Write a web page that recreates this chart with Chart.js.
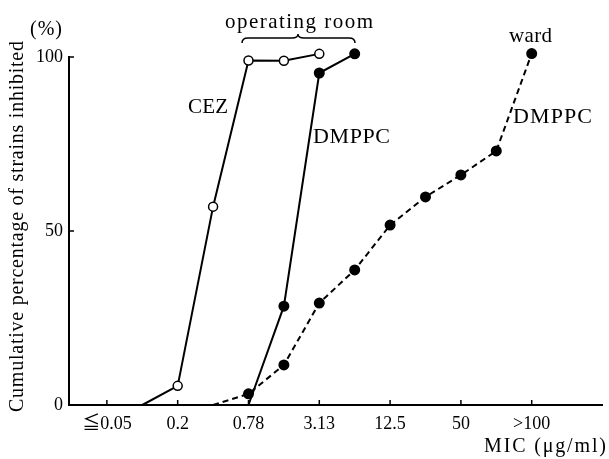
<!DOCTYPE html>
<html>
<head>
<meta charset="utf-8">
<script src="https://cdn.jsdelivr.net/npm/chart.js@4.4.1/dist/chart.umd.min.js"></script>
<style>
  body { margin: 0; background: #fff; }
  #wrap { width: 609px; height: 459px; }
</style>
</head>
<body>
<div id="wrap"><canvas id="chart" width="609" height="459"></canvas></div>
<script>
// MIC steps (two-fold dilutions), index = position on x axis
const micSteps = ['≦0.05', '0.1', '0.2', '0.39', '0.78', '1.56', '3.13', '6.25', '12.5', '25', '50', '100', '>100'];
const tickSteps = [0, 2, 4, 6, 8, 10, 12];
const tickLabels = ['≦0.05', '0.2', '0.78', '3.13', '12.5', '50', '>100'];
const yTicks = [0, 50, 100];

// cumulative % of strains inhibited, null = no point
const cezOR     = [null, 0, 5.5, 57, 99, 98.9, 100.9, null, null, null, null, null, null];
const dmppcOR   = [null, null, null, null, 0, 28.4, 95.4, 100.9, null, null, null, null, null];
const dmppcWard = [null, null, null, 0, 3.2, 11.5, 29.3, 38.8, 51.7, 59.8, 66.1, 73, 101];

const serif = '"Liberation Serif", "DejaVu Serif", "Noto Sans CJK JP", serif';

function toPoints(arr) {
  const pts = [];
  arr.forEach(function(v, i) {
    if (v !== null) pts.push({ x: i, y: v });
  });
  return pts;
}

// first point of each curve is just where the line starts, no marker
function radii(arr) {
  return toPoints(arr).map((p, i) => i === 0 ? 0 : 4.5);
}

// draw text stretched (letter spacing) to a given width, starting at x0
function drawSpread(ctx, text, x0, y, size, width) {
  ctx.font = size + 'px ' + serif;
  ctx.letterSpacing = '0px';
  const w = ctx.measureText(text).width;
  const sp = Math.max(0, (width - w) / (text.length - 1));
  ctx.letterSpacing = sp + 'px';
  ctx.textAlign = 'left';
  ctx.fillText(text, x0, y);
  ctx.letterSpacing = '0px';
}

// inward tick marks, axis titles and curve labels
const extras = {
  id: 'extras',
  afterDraw(chart) {
    const ctx = chart.ctx;
    const xs = chart.scales.x, ys = chart.scales.y;
    const area = chart.chartArea;
    ctx.save();
    ctx.strokeStyle = '#000';
    ctx.lineWidth = 1.5;
    ctx.beginPath();
    yTicks.forEach(v => {
      const py = ys.getPixelForValue(v);
      ctx.moveTo(area.left, py);
      ctx.lineTo(area.left + 5, py);
    });
    tickSteps.forEach(v => {
      const px = xs.getPixelForValue(v);
      ctx.moveTo(px, area.bottom);
      ctx.lineTo(px, area.bottom - 5);
    });
    ctx.stroke();

    ctx.fillStyle = '#000';
    ctx.textBaseline = 'middle';
    drawSpread(ctx, '(%)', 30, 30, 20, 32);
    drawSpread(ctx, 'ward', 509, 36, 21, 43);
    drawSpread(ctx, 'CEZ', 188, 107, 21, 40);
    drawSpread(ctx, 'DMPPC', 313, 137, 22, 77);
    drawSpread(ctx, 'DMPPC', 513, 117, 22, 79);
    drawSpread(ctx, 'MIC (μg/ml)', 484, 447, 20, 122);
    ctx.textBaseline = 'alphabetic';
    drawSpread(ctx, 'operating room', 225, 28, 21, 148);

    // y axis title, rotated
    ctx.save();
    ctx.translate(18, 412);
    ctx.rotate(-Math.PI / 2);
    ctx.textBaseline = 'middle';
    drawSpread(ctx, 'Cumulative percentage of strains inhibited', 0, 0, 20, 371);
    ctx.restore();

    // brace over the operating room curves
    ctx.lineWidth = 1.5;
    ctx.beginPath();
    ctx.moveTo(242, 43);
    ctx.quadraticCurveTo(242, 38, 248, 38);
    ctx.lineTo(292, 38);
    ctx.quadraticCurveTo(298, 38, 298, 34);
    ctx.quadraticCurveTo(298, 38, 304, 38);
    ctx.lineTo(349, 38);
    ctx.quadraticCurveTo(355, 38, 355, 43);
    ctx.stroke();
    ctx.restore();
  }
};

new Chart(document.getElementById('chart'), {
  type: 'line',
  data: {
    datasets: [
      {
        label: 'CEZ',
        data: toPoints(cezOR),
        borderColor: '#000',
        borderWidth: 2,
        pointRadius: radii(cezOR),
        pointBackgroundColor: '#fff',
        pointBorderColor: '#000',
        pointBorderWidth: 1.5,
        tension: 0,
        clip: false
      },
      {
        label: 'DMPPC (operating room)',
        data: toPoints(dmppcOR),
        borderColor: '#000',
        borderWidth: 2,
        pointRadius: radii(dmppcOR),
        pointBackgroundColor: '#000',
        pointBorderColor: '#000',
        tension: 0,
        clip: false
      },
      {
        label: 'DMPPC (ward)',
        data: toPoints(dmppcWard),
        borderColor: '#000',
        borderWidth: 2,
        borderDash: [6, 4],
        pointRadius: radii(dmppcWard),
        pointBackgroundColor: '#000',
        pointBorderColor: '#000',
        tension: 0,
        clip: false
      }
    ]
  },
  options: {
    responsive: false,
    animation: false,
    layout: { padding: { top: 57, right: 6, left: 0, bottom: 0 } },
    plugins: {
      legend: { display: false },
      tooltip: { enabled: false }
    },
    scales: {
      x: {
        type: 'linear',
        min: -1.07,
        max: 14,
        afterBuildTicks(scale) {
          scale.ticks = tickSteps.map(v => ({ value: v }));
        },
        afterFit(scale) { scale.height = 54; },
        grid: { display: false, drawTicks: false },
        border: { color: '#000', width: 2 },
        ticks: {
          color: '#000',
          padding: 8,
          maxRotation: 0,
          autoSkip: false,
          font: { family: serif, size: 18 },
          callback: function(v) {
            const i = tickSteps.indexOf(v);
            return i >= 0 ? tickLabels[i] : '';
          }
        }
      },
      y: {
        min: 0,
        max: 100,
        afterBuildTicks(scale) {
          scale.ticks = yTicks.map(v => ({ value: v }));
        },
        afterFit(scale) { scale.width = 69; },
        grid: { display: false, drawTicks: false },
        border: { color: '#000', width: 2 },
        ticks: {
          color: '#000',
          padding: 6,
          font: { family: serif, size: 18 }
        }
      }
    }
  },
  plugins: [extras]
});
</script>
</body>
</html>
